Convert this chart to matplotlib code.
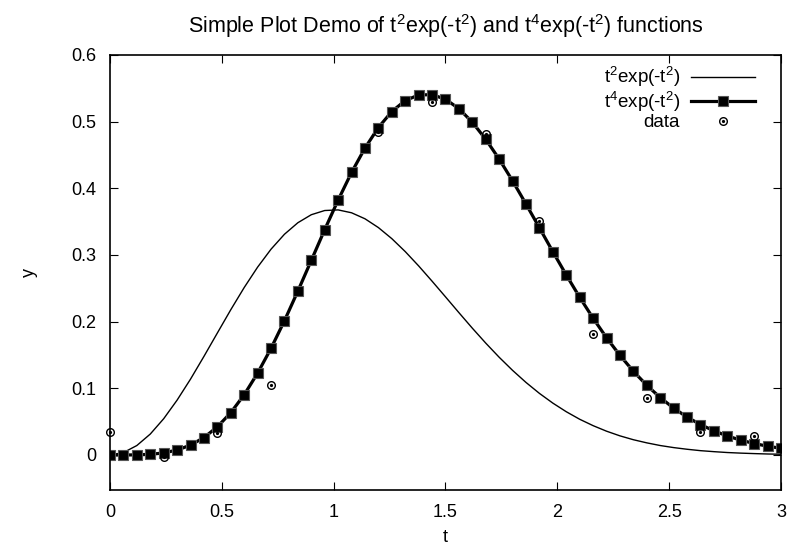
import matplotlib
matplotlib.use('Agg')
import matplotlib.pyplot as plt
from matplotlib.ticker import FormatStrFormatter, MultipleLocator

plt.rcParams['font.family'] = ['Liberation Sans', 'DejaVu Sans']
plt.rcParams['mathtext.fontset'] = 'custom'
plt.rcParams['mathtext.rm'] = 'Liberation Sans'

# sample points (t) of the two curves
t = [0.00, 0.06, 0.12, 0.18, 0.24, 0.30, 0.36, 0.42, 0.48, 0.54,
     0.60, 0.66, 0.72, 0.78, 0.84, 0.90, 0.96, 1.02, 1.08, 1.14,
     1.20, 1.26, 1.32, 1.38, 1.44, 1.50, 1.56, 1.62, 1.68, 1.74,
     1.80, 1.86, 1.92, 1.98, 2.04, 2.10, 2.16, 2.22, 2.28, 2.34,
     2.40, 2.46, 2.52, 2.58, 2.64, 2.70, 2.76, 2.82, 2.88, 2.94, 3.00]

# t^2 exp(-t^2)
y2 = [0.0000, 0.0036, 0.0142, 0.0314, 0.0544, 0.0823, 0.1138, 0.1479, 0.1830, 0.2179,
      0.2512, 0.2818, 0.3087, 0.3311, 0.3484, 0.3604, 0.3667, 0.3676, 0.3633, 0.3543,
      0.3411, 0.3245, 0.3051, 0.2836, 0.2607, 0.2372, 0.2135, 0.1902, 0.1678, 0.1466,
      0.1269, 0.1088, 0.0924, 0.0778, 0.0649, 0.0536, 0.0440, 0.0357, 0.0287, 0.0229,
      0.0182, 0.0142, 0.0111, 0.0086, 0.0065, 0.0050, 0.0037, 0.0028, 0.0021, 0.0015, 0.0011]

# t^4 exp(-t^2)
y4 = [0.0000, 0.0000, 0.0002, 0.0010, 0.0031, 0.0074, 0.0148, 0.0261, 0.0422, 0.0635,
      0.0904, 0.1228, 0.1600, 0.2014, 0.2459, 0.2919, 0.3380, 0.3824, 0.4238, 0.4604,
      0.4912, 0.5152, 0.5316, 0.5400, 0.5405, 0.5336, 0.5195, 0.4991, 0.4735, 0.4438,
      0.4111, 0.3764, 0.3407, 0.3049, 0.2700, 0.2365, 0.2051, 0.1759, 0.1494, 0.1256,
      0.1045, 0.0862, 0.0703, 0.0569, 0.0456, 0.0363, 0.0285, 0.0223, 0.0172, 0.0132, 0.0100]

# scattered data points
t_data = [0.00, 0.24, 0.48, 0.72, 0.96, 1.20, 1.44, 1.68, 1.92, 2.16, 2.40, 2.64, 2.88]
y_data = [0.034, -0.003, 0.033, 0.105, 0.338, 0.485, 0.530, 0.481, 0.351, 0.182, 0.085, 0.034, 0.029]

fig = plt.figure(figsize=(7.88, 5.57), dpi=100)
ax = fig.add_axes([0.1396, 0.1203, 0.8515, 0.7810])

l1, = ax.plot(t, y2, color='black', lw=1.0)
l2, = ax.plot(t, y4, color='black', lw=2.3, marker='s', markersize=6.5,
              markerfacecolor='black', markeredgecolor='#555555', markeredgewidth=0.8)
c1, = ax.plot(t_data, y_data, linestyle='none', marker='o', markersize=5.5,
              markerfacecolor='none', markeredgecolor='black', markeredgewidth=1.0, clip_on=False)
c2, = ax.plot(t_data, y_data, linestyle='none', marker='o', markersize=1.3,
              color='black', clip_on=False)

ax.set_xlim(0, 3)
ax.set_ylim(-0.0525, 0.6)
ax.xaxis.set_major_locator(MultipleLocator(0.5))
ax.yaxis.set_major_locator(MultipleLocator(0.1))
ax.xaxis.set_major_formatter(FormatStrFormatter('%g'))
ax.yaxis.set_major_formatter(FormatStrFormatter('%g'))
ax.tick_params(direction='in', length=6, width=0.8, top=True, right=True,
               labelsize=13, pad=10)
for s in ax.spines.values():
    s.set_linewidth(1.2)

ax.set_title(r'Simple Plot Demo of t$^{2}$exp(-t$^{2}$) and '
             r't$^{4}$exp(-t$^{2}$) functions', fontsize=15.5, pad=16)
ax.set_xlabel('t', fontsize=13, labelpad=6)
ax.set_ylabel('y', fontsize=13, labelpad=24)

labels = [r't$^{2}$exp(-t$^{2}$)', r't$^{4}$exp(-t$^{2}$)', 'data']
ax.legend([l1, l2, (c1, c2)], labels, loc='upper right', bbox_to_anchor=(0.975, 1.0),
          frameon=False, markerfirst=False, fontsize=13.5, handlelength=3.4,
          labelspacing=0.0, handletextpad=0.6, borderaxespad=0.1)

fig.savefig('out.png', dpi=100)
